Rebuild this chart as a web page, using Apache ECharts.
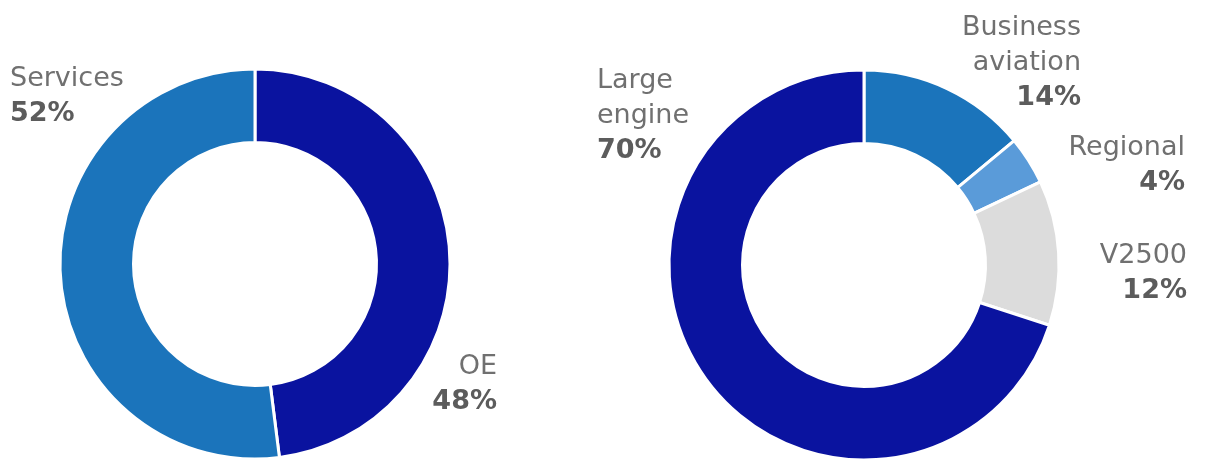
<!DOCTYPE html>
<html>
<head>
<meta charset="utf-8">
<script src="https://cdn.jsdelivr.net/npm/echarts@6/dist/echarts.min.js"></script>
<style>
html,body{margin:0;padding:0;background:#fff;}
#chart{width:1207px;height:473px;}
</style>
</head>
<body>
<div id="chart"></div>
<script>
// Left donut: revenue split
const leftNames = ['OE', 'Services'];
const leftValues = [48, 52];
const leftColors = ['#0a139f', '#1b74bb'];

// Right donut: OE split by segment
const rightNames = ['Business\naviation', 'Regional', 'V2500', 'Large\nengine'];
const rightValues = [14, 4, 12, 70];
const rightColors = ['#1b74bb', '#5a9bd9', '#dcdcdc', '#0a139f'];

// Label anchor layout (top of label block, alignment)
const leftLabelPos = [
  {x: 497, y: 349, align: 'right'},
  {x: 10, y: 61, align: 'left'}
];
const rightLabelPos = [
  {x: 1081, y: 10, align: 'right'},
  {x: 1185, y: 130, align: 'right'},
  {x: 1187, y: 238, align: 'right'},
  {x: 597, y: 63, align: 'left'}
];

function buildData(names, values, colors) {
  return names.map((n, i) => ({name: n, value: values[i], itemStyle: {color: colors[i]}}));
}

const FONT = '"DejaVu Sans", sans-serif';

function makeSeries(center, names, values, colors, pos) {
  return {
    type: 'pie',
    center: center,
    radius: [121.5, 195],
    startAngle: 90,
    clockwise: true,
    avoidLabelOverlap: false,
    animation: false,
    silent: true,
    itemStyle: {borderColor: '#ffffff', borderWidth: 3},
    labelLine: {show: false},
    label: {
      show: true,
      position: 'outside',
      formatter: (p) => {
        const lines = p.name.split('\n').map(s => '{n|' + s + '}');
        return lines.join('\n') + '\n{p|' + p.value + '%}';
      },
      rich: {
        n: {fontSize: 27, color: '#707070', fontFamily: FONT, lineHeight: 35},
        p: {fontSize: 27, color: '#5c5c5c', fontWeight: 'bold', fontFamily: FONT, lineHeight: 35}
      }
    },
    labelLayout: (params) => {
      const q = pos[params.dataIndex];
      return {x: q.x, y: q.y, align: q.align, verticalAlign: 'top'};
    },
    data: buildData(names, values, colors)
  };
}

const chart = echarts.init(document.getElementById('chart'), null, {renderer: 'canvas'});
chart.setOption({
  backgroundColor: '#ffffff',
  series: [
    makeSeries([255, 264], leftNames, leftValues, leftColors, leftLabelPos),
    makeSeries([864, 265], rightNames, rightValues, rightColors, rightLabelPos)
  ]
});
</script>
</body>
</html>
